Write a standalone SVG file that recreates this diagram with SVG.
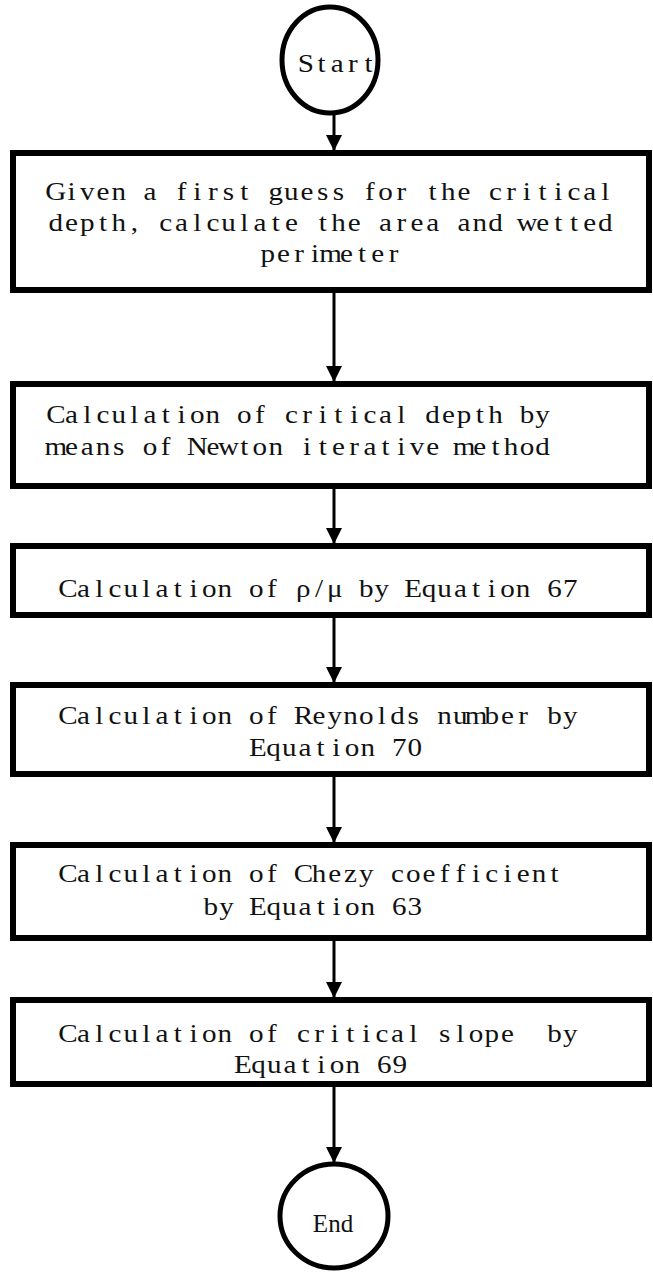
<svg xmlns="http://www.w3.org/2000/svg" width="653" height="1275" viewBox="0 0 653 1275">
<style>
.box{fill:#fff;stroke:#000;stroke-width:6}
.term{fill:#fff;stroke:#000;stroke-width:5}
.t{font-family:"Liberation Serif","Times New Roman",serif;font-size:26px;fill:#111;text-anchor:middle}
.e{font-family:"Liberation Serif","Times New Roman",serif;font-size:25px;fill:#111;text-anchor:middle}
.c{fill:none;stroke:#000;stroke-width:3}
</style>
<defs>
<marker id="ah" markerUnits="userSpaceOnUse" viewBox="0 0 16 16" markerWidth="16" markerHeight="16" refX="16" refY="8" orient="auto">
<path d="M0,0 L16,8 L0,16 z" fill="#000"/>
</marker>
</defs>
<g id="connectors">
<line class="c" x1="334" y1="115" x2="334" y2="151" marker-end="url(#ah)"/>
<line class="c" x1="334" y1="293" x2="334" y2="382" marker-end="url(#ah)"/>
<line class="c" x1="334" y1="489" x2="334" y2="544" marker-end="url(#ah)"/>
<line class="c" x1="334" y1="618" x2="334" y2="683" marker-end="url(#ah)"/>
<line class="c" x1="334" y1="777" x2="334" y2="843" marker-end="url(#ah)"/>
<line class="c" x1="334" y1="941" x2="334" y2="998" marker-end="url(#ah)"/>
<line class="c" x1="334" y1="1087" x2="334" y2="1163" marker-end="url(#ah)"/>
</g>
<g id="start">
<ellipse class="term" cx="330" cy="60" rx="48" ry="53"/>
<text class="t" transform="translate(298,0) scale(1.12,1)" x="7.0 21.0 35.0 49.1 63.1" y="72">Start</text>
</g>
<g id="step1">
<rect class="box" x="13" y="153" width="636" height="137"/>
<text class="t" transform="translate(48,0) scale(1.12,1)" x="7.0 21.0 35.0 49.1 63.1 77.1 91.1 105.1 119.2 133.2 147.2 161.2 175.2 189.2 203.3 217.3 231.3 245.3 259.3 273.4 287.4 301.4 315.4 329.4 343.4 357.5 371.5 385.5 399.5 413.5 427.6 441.6 455.6 469.6 483.6 497.6" y="200">Given a first guess for the critical</text>
<text class="t" transform="translate(48,0) scale(1.12,1)" x="7.0 21.0 35.0 49.1 63.1 77.1 91.1 105.1 119.2 133.2 147.2 161.2 175.2 189.2 203.3 217.3 231.3 245.3 259.3 273.4 287.4 301.4 315.4 329.4 343.4 357.5 371.5 385.5 399.5 413.5 427.6 441.6 455.6 469.6 483.6 497.6" y="231">depth, calculate the area and wetted</text>
<text class="t" transform="translate(260,0) scale(1.12,1)" x="7.0 21.0 35.0 49.1 63.1 77.1 91.1 105.1 119.2" y="262">perimeter</text>
</g>
<g id="step2">
<rect class="box" x="13" y="384" width="636" height="102"/>
<text class="t" transform="translate(48,0) scale(1.12,1)" x="7.0 21.0 35.0 49.1 63.1 77.1 91.1 105.1 119.2 133.2 147.2 161.2 175.2 189.2 203.3 217.3 231.3 245.3 259.3 273.4 287.4 301.4 315.4 329.4 343.4 357.5 371.5 385.5 399.5 413.5 427.6 441.6" y="423">Calculation of critical depth by</text>
<text class="t" transform="translate(48,0) scale(1.12,1)" x="7.0 21.0 35.0 49.1 63.1 77.1 91.1 105.1 119.2 133.2 147.2 161.2 175.2 189.2 203.3 217.3 231.3 245.3 259.3 273.4 287.4 301.4 315.4 329.4 343.4 357.5 371.5 385.5 399.5 413.5 427.6 441.6" y="455">means of Newton iterative method</text>
</g>
<g id="step3">
<rect class="box" x="13" y="546" width="636" height="69"/>
<text class="t" transform="translate(60,0) scale(1.12,1)" x="7.0 21.0 35.0 49.1 63.1 77.1 91.1 105.1 119.2 133.2 147.2 161.2 175.2 189.2 203.3 217.3 231.3 245.3 259.3 273.4 287.4 301.4 315.4 329.4 343.4 357.5 371.5 385.5 399.5 413.5 427.6 441.6 455.6" y="597">Calculation of ρ/μ by Equation 67</text>
</g>
<g id="step4">
<rect class="box" x="13" y="685" width="636" height="89"/>
<text class="t" transform="translate(60,0) scale(1.12,1)" x="7.0 21.0 35.0 49.1 63.1 77.1 91.1 105.1 119.2 133.2 147.2 161.2 175.2 189.2 203.3 217.3 231.3 245.3 259.3 273.4 287.4 301.4 315.4 329.4 343.4 357.5 371.5 385.5 399.5 413.5 427.6 441.6 455.6" y="724">Calculation of Reynolds number by</text>
<text class="t" transform="translate(250,0) scale(1.12,1)" x="7.0 21.0 35.0 49.1 63.1 77.1 91.1 105.1 119.2 133.2 147.2" y="756">Equation 70</text>
</g>
<g id="step5">
<rect class="box" x="13" y="845" width="636" height="93"/>
<text class="t" transform="translate(60,0) scale(1.12,1)" x="7.0 21.0 35.0 49.1 63.1 77.1 91.1 105.1 119.2 133.2 147.2 161.2 175.2 189.2 203.3 217.3 231.3 245.3 259.3 273.4 287.4 301.4 315.4 329.4 343.4 357.5 371.5 385.5 399.5 413.5 427.6 441.6" y="882">Calculation of Chezy coefficient</text>
<text class="t" transform="translate(203,0) scale(1.12,1)" x="7.0 21.0 35.0 49.1 63.1 77.1 91.1 105.1 119.2 133.2 147.2 161.2 175.2 189.2" y="915">by Equation 63</text>
</g>
<g id="step6">
<rect class="box" x="13" y="1000" width="636" height="84"/>
<text class="t" xml:space="preserve" transform="translate(60,0) scale(1.12,1)" x="7.0 21.0 35.0 49.1 63.1 77.1 91.1 105.1 119.2 133.2 147.2 161.2 175.2 189.2 203.3 217.3 231.3 245.3 259.3 273.4 287.4 301.4 315.4 329.4 343.4 357.5 371.5 385.5 399.5 413.5 427.6 441.6 455.6" y="1042">Calculation of critical slope  by</text>
<text class="t" transform="translate(235,0) scale(1.12,1)" x="7.0 21.0 35.0 49.1 63.1 77.1 91.1 105.1 119.2 133.2 147.2" y="1073">Equation 69</text>
</g>
<g id="end">
<ellipse class="term" cx="334" cy="1216" rx="54" ry="52"/>
<text class="e" x="333" y="1232">End</text>
</g>
</svg>
